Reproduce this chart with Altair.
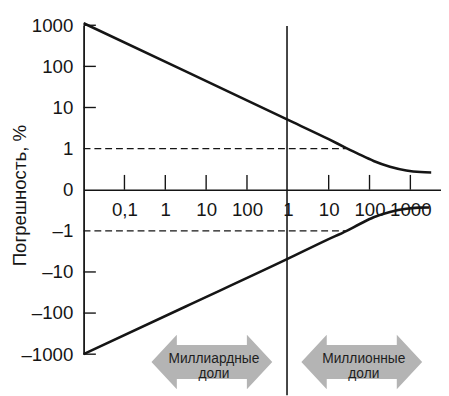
import altair as alt
import pandas as pd

# ---- data (positions on the chart's decade-index scales) ----
x_tick_labels = ["0,1", "1", "10", "100", "1", "10", "100", "1000"]
x_tick_pos = [1, 2, 3, 4, 5, 6, 7, 8]
y_tick_labels = ["–1000", "–100", "–10", "–1", "0", "1", "10", "100", "1000"]
y_tick_pos = [-4, -3, -2, -1, 0, 1, 2, 3, 4]

upper_u = [0, 2.5, 4.98, 6.0, 6.42, 6.75, 7.1, 7.5, 7.9, 8.25, 8.51]
upper_v = [4.05, 2.88, 1.71, 1.23, 1.02, 0.86, 0.70, 0.56, 0.47, 0.43, 0.42]
lower_u = [0, 2.5, 4.98, 5.96, 6.44, 6.75, 7.1, 7.5, 7.9, 8.2, 8.46]
lower_v = [-4.0, -2.84, -1.69, -1.22, -1.0, -0.84, -0.67, -0.54, -0.46, -0.435, -0.43]

dash_v = [1, -1]
dash_end = [6.42, 6.45]
inner_y_ticks = [4, 3, 2, -2, -3, -4]
inner_x_ticks = [1, 2, 3, 4, 6, 7, 8]
ppm_divider = 4.98

arrow_u = [3.14, 6.81]
arrow_v = [-4.19, -4.19]
arrow_text = ["Миллиардные\nдоли", "Миллионные\nдоли"]
text_u = [3.19, 6.86]
text_v = [-4.12, -4.12]

FONT = "Liberation Sans"
INK = "#151515"

xs = alt.Scale(domain=[0, 8.75], nice=False, zero=False)
ys = alt.Scale(domain=[-4, 4], nice=False, zero=False)

xlab_expr = "[" + ",".join(f"'{s}'" for s in x_tick_labels) + "][datum.value - 1]"
ylab_expr = "[" + ",".join(f"'{s}'" for s in y_tick_labels) + "][datum.value + 4]"

XAX = alt.Axis(
    orient="bottom", offset=-167.5, values=x_tick_pos, labelExpr=xlab_expr,
    ticks=False, tickSize=0, grid=False, domain=True, domainColor=INK,
    domainWidth=1.6, labelFont=FONT, labelFontSize=19, labelColor=INK,
    labelPadding=11, labelOverlap=False, labelFlush=False, title=None)
YAX = alt.Axis(
    orient="left", values=y_tick_pos, labelExpr=ylab_expr,
    ticks=False, tickSize=0, grid=False, domain=True, domainColor=INK,
    domainWidth=1.8, labelFont=FONT, labelFontSize=19, labelColor=INK,
    labelPadding=11, labelOverlap=False, labelFlush=False,
    title="Погрешность, %", titleFont=FONT, titleFontSize=19,
    titleFontWeight="normal", titleColor=INK, titleX=-65, titleY=173,
    titleAngle=-90, titleAlign="center", titleBaseline="middle")


def X(f):
    return alt.X(f, scale=xs, axis=XAX)


def Y(f):
    return alt.Y(f, scale=ys, axis=YAX)


curves = pd.DataFrame(
    {"u": upper_u + lower_u,
     "v": upper_v + lower_v,
     "s": ["up"] * len(upper_u) + ["low"] * len(lower_u)}
)

lines = alt.Chart(curves).mark_line(
    color=INK, strokeWidth=2.6, interpolate="monotone"
).encode(x=X("u:Q"), y=Y("v:Q"), detail="s:N")

dash_df = pd.DataFrame({"v": dash_v, "u0": [0, 0], "u1": dash_end})
dashes = alt.Chart(dash_df).mark_rule(
    color=INK, strokeWidth=1.3, strokeDash=[7, 4]
).encode(x=X("u0:Q"), x2="u1:Q", y=Y("v:Q"))

ytk = pd.DataFrame({"v": inner_y_ticks, "u0": 0, "u1": 0.3})
yticks = alt.Chart(ytk).mark_rule(color=INK, strokeWidth=1.4).encode(
    x=X("u0:Q"), x2="u1:Q", y=Y("v:Q"))

xtk = pd.DataFrame({"u": inner_x_ticks, "v0": 0, "v1": 0.36})
xticks = alt.Chart(xtk).mark_rule(color=INK, strokeWidth=1.4).encode(
    x=X("u:Q"), y=Y("v0:Q"), y2="v1:Q")

div_df = pd.DataFrame({"u": [ppm_divider], "v0": [3.98], "v1": [-5]})
divider = alt.Chart(div_df).mark_rule(color=INK, strokeWidth=1.6).encode(
    x=X("u:Q"), y=Y("v0:Q"), y2="v1:Q")

ARROW = ("M -1 0 L -0.58 -0.45 L -0.58 -0.28 L 0.58 -0.28 L 0.58 -0.45 "
         "L 1 0 L 0.58 0.45 L 0.58 0.28 L -0.58 0.28 L -0.58 0.45 Z")
arr_df = pd.DataFrame({"u": arrow_u, "v": arrow_v})
arrows = alt.Chart(arr_df).mark_point(
    shape=ARROW, filled=True, fill="#b4b4b4", strokeWidth=0, size=15129, opacity=1
).encode(x=X("u:Q"), y=Y("v:Q"))

txt_df = pd.DataFrame({"u": text_u, "v": text_v, "t": arrow_text})
texts = alt.Chart(txt_df).mark_text(
    font=FONT, fontSize=14, color="#1e1e1e", lineBreak="\n", lineHeight=15,
    align="center", baseline="middle"
).encode(x=X("u:Q"), y=Y("v:Q"), text="t:N")

chart = alt.layer(
    lines, arrows, texts, dashes, yticks, xticks, divider
).properties(
    width=364, height=335,
    padding={"left": 77, "top": 14, "right": 0, "bottom": 39},
    autosize=alt.AutoSizeParams(type="none"),
).configure_view(stroke=None)

chart.save("out.html", embed_options={"renderer": "svg", "actions": False})
